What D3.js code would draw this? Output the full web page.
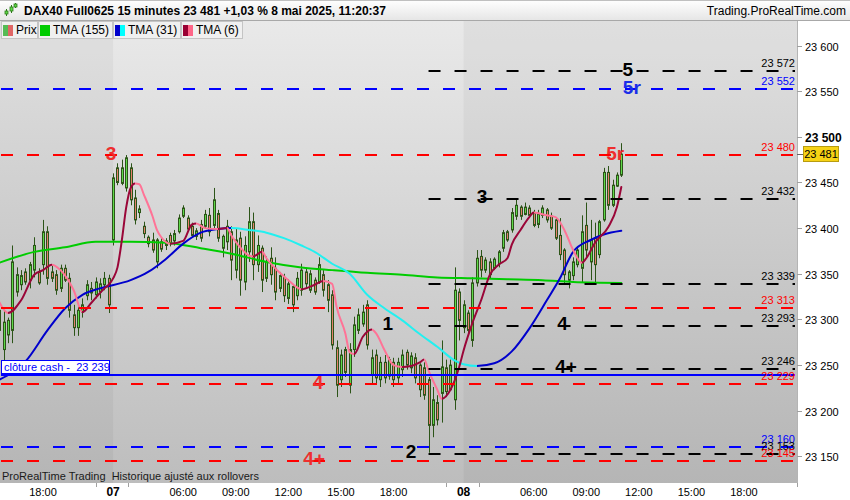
<!DOCTYPE html>
<html><head><meta charset="utf-8">
<script src="https://cdn.jsdelivr.net/npm/d3@7/dist/d3.min.js"></script>
<style>
html,body{margin:0;padding:0;background:#fff;}
svg{display:block;font-family:"Liberation Sans",Arial,Helvetica,sans-serif;}
</style></head><body>
<svg id="chart" width="850" height="500"></svg>
<script>
// ---------- DATA (15-minute bars, index 0 = 6 May 15:30) ----------
const openP = [23310,23267,23283,23288,23330,23338,23352,23343,23354,23352,
23360,23396,23352,23349,23334,23356,23345,23305,23291,23308,
23326,23334,23327,23330,23338,23345,23387,23466,23449,23444,
23466,23433,23417,23402,23390,23387,23363,23385,23381,23392,
23386,23396,23413,23411,23402,23391,23404,23402,23414,23403,
23416,23378,23385,23396,23354,23389,23341,23374,23407,23360,
23378,23345,23367,23356,23334,23346,23323,23336,23326,23332,
23352,23332,23343,23341,23349,23338,23327,23269,23234,23267,
23228,23267,23288,23295,23316,23239,23261,23234,23253,23238,
23253,23236,23245,23264,23247,23258,23250,23247,23234,23184,
23209,23219,23247,23223,23212,23330,23291,23307,23277,23340,
23369,23354,23363,23356,23361,23378,23396,23398,23413,23423,
23415,23422,23417,23404,23414,23420,23413,23409,23392,23376,
23343,23348,23360,23356,23403,23363,23389,23371,23409,23461,
23425,23446,23458];
const highP = [23318,23310,23302,23381,23357,23354,23356,23363,23390,23356,
23409,23402,23360,23354,23360,23360,23351,23316,23314,23323,
23343,23341,23346,23345,23352,23349,23460,23471,23475,23480,
23471,23442,23425,23407,23392,23395,23389,23389,23389,23395,
23398,23415,23425,23414,23406,23400,23409,23420,23422,23444,
23420,23393,23409,23402,23400,23396,23391,23423,23417,23392,
23381,23369,23379,23368,23352,23350,23344,23338,23352,23361,
23356,23354,23346,23368,23354,23343,23332,23277,23267,23270,
23274,23303,23312,23316,23321,23267,23267,23259,23261,23259,
23258,23258,23267,23267,23264,23263,23252,23253,23237,23226,
23217,23277,23256,23256,23357,23334,23321,23310,23346,23376,
23376,23368,23367,23368,23376,23398,23398,23422,23431,23425,
23428,23425,23420,23420,23425,23422,23417,23412,23411,23378,
23354,23368,23379,23414,23428,23409,23406,23409,23466,23468,
23453,23461,23493];
const lowP = [23277,23253,23274,23274,23325,23332,23338,23334,23346,23338,
23349,23338,23341,23327,23330,23341,23302,23282,23282,23302,
23321,23321,23323,23323,23332,23307,23381,23447,23447,23440,
23425,23404,23411,23389,23379,23373,23356,23374,23376,23380,
23381,23394,23411,23396,23390,23387,23385,23400,23391,23400,
23385,23368,23376,23343,23345,23326,23332,23363,23343,23352,
23330,23341,23338,23321,23330,23319,23317,23308,23321,23326,
23334,23329,23327,23339,23325,23308,23267,23215,23226,23237,
23219,23259,23284,23292,23267,23230,23230,23226,23230,23234,
23226,23230,23237,23245,23241,23230,23215,23212,23154,23171,
23184,23187,23215,23223,23201,23277,23285,23285,23270,23336,
23346,23351,23345,23354,23357,23374,23385,23395,23409,23409,
23414,23412,23401,23400,23411,23406,23398,23387,23365,23340,
23334,23343,23357,23340,23368,23343,23340,23367,23407,23420,
23423,23445,23456];
const closeP = [23288,23297,23299,23363,23349,23348,23341,23360,23381,23340,
23396,23345,23345,23332,23356,23343,23310,23291,23310,23316,
23338,23329,23341,23339,23345,23316,23455,23450,23466,23477,
23431,23409,23421,23394,23383,23376,23387,23377,23386,23383,
23394,23411,23422,23399,23392,23397,23389,23415,23396,23431,
23389,23391,23402,23365,23387,23343,23381,23407,23360,23381,
23343,23363,23349,23330,23348,23326,23339,23316,23345,23354,
23339,23350,23330,23360,23332,23321,23272,23228,23261,23242,
23267,23294,23305,23308,23272,23258,23236,23253,23236,23256,
23234,23253,23261,23250,23260,23236,23223,23217,23184,23212,
23190,23248,23221,23250,23332,23299,23316,23288,23340,23367,
23354,23365,23349,23366,23374,23395,23387,23417,23425,23413,
23423,23414,23403,23415,23422,23409,23400,23389,23371,23349,
23352,23363,23376,23396,23376,23387,23360,23407,23461,23425,
23447,23458,23481];

// moving averages read at sampled bars
const tma155Bars = [0,8,15,22,30,38,46,53,61,69,76,84,92,100,108,116,124,131,142];
const tma155Vals = [23362,23374,23379,23385,23385,23384,23378,23372,23363,23357,23354,23351,23349,23346,23345,23344,23343,23341,23340];
const tma31Bars = [0,6,11,15,19,23,30,34,38,42,46,50,53,57,61,65,69,72,76,80,84,88,92,96,100,104,106,109,113,117,121,125,128,131,135,138,142];
const tma31Vals = [23234,23254,23288,23312,23327,23334,23343,23352,23366,23383,23395,23399,23400,23398,23395,23389,23381,23374,23361,23350,23327,23312,23299,23284,23270,23255,23251,23249,23252,23265,23290,23321,23345,23374,23387,23393,23397];
const tma6Bars = [0,2,5,8,10,12,14,17,19,21,24,25,26,27,28,29,30,31,32,33,35,36,37,39,42,44,45,47,50,52,53,55,57,58,60,61,63,66,68,69,72,74,76,77,79,80,81,83,85,86,88,90,92,94,96,97,98,100,101,103,105,106,108,110,112,114,116,117,119,121,122,125,127,129,131,133,134,136,139,141,142];
const tma6Vals = [23319,23307,23321,23349,23354,23360,23354,23332,23308,23318,23334,23338,23345,23357,23387,23423,23444,23449,23448,23437,23413,23398,23390,23383,23386,23404,23405,23400,23399,23400,23392,23379,23370,23369,23374,23367,23356,23343,23335,23333,23338,23342,23339,23314,23285,23264,23262,23281,23289,23285,23266,23250,23248,23249,23253,23256,23244,23223,23213,23223,23248,23266,23296,23321,23349,23360,23367,23382,23398,23412,23417,23414,23412,23398,23376,23362,23367,23384,23401,23423,23445];

// horizontal levels
const levelValues = [23572,23552,23480,23432,23339,23313,23293,23246,23239,23229,23160,23153,23145];
const levelKinds  = ["black","blue","red","black","black","red","black","black","cash","red","blue","black","red"];

// annotations on levels
const annText  = ["3","5r","4","4+","5","5r","3","1","4","4+","2"];
const annKind  = ["red","red","red","red","black","blue","black","black","black","black","black"];
const annBar   = [25.5,140.6,72.8,71.9,143.5,144.4,110.2,88.7,128.6,129.4,94];
const annValue = [23480,23480,23229,23145,23572,23552,23432,23293,23293,23246,23153];

// axes
const yTicks = [23150,23200,23250,23300,23350,23400,23450,23500,23550,23600];
const xTickLabels = ["18:00","07","06:00","09:00","12:00","15:00","18:00","08","06:00","09:00","12:00","15:00","18:00"];
const xTickBars   = [10,26,42,54,66,78,90,106,122,134,146,158,170];
const xMinorBars  = [22,29.5,102,109.5];
const dayStartBars = [26,106];
const lastPrice = 23481;
const cashClose = 23239;

// ---------- DRAWING ----------
const svg = d3.select("#chart");
const PL=0, PR=797, PT=21, PB=483;
const x = d3.scaleLinear().domain([0,182]).range([-0.8, -0.8+182*4.381]);
const y = d3.scaleLinear().domain([23150,23600]).range([456.4,45.5]);
const fmt = v => String(v).replace(/\B(?=(\d{3})+(?!\d))/g," ");
const colors = {red:"#ff0000", blue:"#0000ff", black:"#000000", cash:"#0000ff"};
const annColors = {red:"#ee2e2e", blue:"#1a2ee8", black:"#000"};

const defs = svg.append("defs");
const bg = defs.append("linearGradient").attr("id","bg").attr("x1",0).attr("y1",0).attr("x2",0).attr("y2",1);
bg.append("stop").attr("offset",0).attr("stop-color","#e9e9e9");
bg.append("stop").attr("offset",1).attr("stop-color","#bdbdbd");
defs.append("clipPath").attr("id","clip").append("rect").attr("x",PL).attr("y",PT).attr("width",PR-PL).attr("height",PB-PT);

svg.append("rect").attr("x",PL).attr("y",PT).attr("width",PR-PL).attr("height",PB-PT).attr("fill","url(#bg)");
// alternate day shading
svg.append("rect").attr("x",PL).attr("y",PT).attr("width",x(dayStartBars[0])-PL).attr("height",PB-PT).attr("fill","#000").attr("opacity",0.04);
svg.append("rect").attr("x",x(dayStartBars[1])).attr("y",PT).attr("width",PR-x(dayStartBars[1])).attr("height",PB-PT).attr("fill","#000").attr("opacity",0.04);

const plot = svg.append("g").attr("clip-path","url(#clip)");

// candles
const cg = plot.append("g");
openP.forEach((o,i)=>{
  const c = closeP[i], cx = Math.round(x(i))+0.5;
  cg.append("line").attr("x1",cx).attr("x2",cx).attr("y1",y(highP[i])).attr("y2",y(lowP[i]))
    .attr("stroke","#2c5418").attr("stroke-width",1);
  const top = y(Math.max(o,c)), bot = y(Math.min(o,c));
  cg.append("rect").attr("x",cx-1).attr("width",2).attr("y",top).attr("height",Math.max(1,bot-top))
    .attr("fill", c>=o ? "#5fd94a" : "#e4806c").attr("stroke","#2c5418").attr("stroke-width",1);
});

// moving averages
function drawMA(bars, vals, upC, downC, id){
  const pts = bars.map((b,k)=>[x(b), y(vals[k])]);
  const x0 = pts[0][0], x1 = pts[pts.length-1][0];
  const g = defs.append("linearGradient").attr("id",id).attr("gradientUnits","userSpaceOnUse")
    .attr("x1",x0).attr("y1",0).attr("x2",x1).attr("y2",0);
  for(let k=0;k<pts.length-1;k++){
    const col = vals[k+1]>=vals[k] ? upC : downC;
    g.append("stop").attr("offset",(pts[k][0]-x0)/(x1-x0)).attr("stop-color",col);
    g.append("stop").attr("offset",(pts[k+1][0]-x0)/(x1-x0)).attr("stop-color",col);
  }
  plot.append("path").attr("d", d3.line().curve(d3.curveMonotoneX)(pts))
    .attr("fill","none").attr("stroke",`url(#${id})`).attr("stroke-width",2).attr("stroke-linecap","round");
}
drawMA(tma155Bars, tma155Vals, "#00cc00", "#00cc00", "g155");
drawMA(tma31Bars, tma31Vals, "#0000cc", "#22f0f0", "g31");
drawMA(tma6Bars, tma6Vals, "#9a0638", "#ff7396", "g6");

// levels
const lowIdx = d3.minIndex(lowP);
levelValues.forEach((v,k)=>{
  const kind = levelKinds[k];
  const x0 = kind==="black" ? x(lowIdx) : 1;
  const ln = plot.append("line").attr("x1",x0).attr("x2",PR-2).attr("y1",Math.round(y(v))).attr("y2",Math.round(y(v)))
    .attr("stroke",colors[kind]).attr("stroke-width",2);
  if(kind!=="cash") ln.attr("stroke-dasharray","12,14");
});

// level value labels (right side, inside plot)
levelValues.forEach((v,k)=>{
  const kind = levelKinds[k];
  if(kind==="cash") return;
  svg.append("text").attr("x",795).attr("y",Math.round(y(v))-4).attr("text-anchor","end")
    .attr("font-size",11).attr("fill",colors[kind]).text(fmt(v));
});

// annotations
annText.forEach((t,k)=>{
  svg.append("text").attr("x",x(annBar[k])).attr("y",y(annValue[k])-2)
    .attr("text-anchor","middle").attr("dominant-baseline","central")
    .attr("font-size",19).attr("font-weight","bold").attr("fill",annColors[annKind[k]]).text(t);
});

// cash close label
const cy = Math.round(y(cashClose));
svg.append("rect").attr("x",1.5).attr("y",cy-14.5).attr("width",108).attr("height",13).attr("fill","#fff").attr("stroke","#0000ff").attr("stroke-width",1);
svg.append("text").attr("x",4).attr("y",cy-4).attr("font-size",11).attr("fill","#0000ff").attr("xml:space","preserve").text("clôture cash -  " + fmt(cashClose));

// bottom-left note
svg.append("text").attr("x",2).attr("y",480).attr("font-size",11).attr("fill","#1a1a1a").attr("xml:space","preserve")
  .text("ProRealTime Trading  Historique ajusté aux rollovers");

// right axis
svg.append("rect").attr("x",PR).attr("y",PT).attr("width",850-PR).attr("height",PB-PT+17).attr("fill","#fff");
svg.append("line").attr("x1",PR+0.5).attr("x2",PR+0.5).attr("y1",PT).attr("y2",PB).attr("stroke","#b4b4b4");
yTicks.forEach(v=>{
  const yy = Math.round(y(v))+0.5;
  svg.append("line").attr("x1",PR).attr("x2",PR+5).attr("y1",yy).attr("y2",yy).attr("stroke","#a0a0a0");
  const bold = v===23500;
  svg.append("text").attr("x",805).attr("y",yy+4).attr("font-size",bold?12:11).attr("font-weight",bold?"bold":"normal")
    .attr("fill","#000").text(fmt(v));
});
// last price tag
const ly = y(lastPrice);
svg.append("line").attr("x1",PR).attr("x2",803).attr("y1",Math.round(ly)+0.5).attr("y2",Math.round(ly)+0.5).attr("stroke","#666");
svg.append("rect").attr("x",803.5).attr("y",Math.round(ly)-7.5).attr("width",35).attr("height",15).attr("fill","#f6d215").attr("stroke","#b89c10");
svg.append("text").attr("x",821).attr("y",Math.round(ly)+4).attr("text-anchor","middle").attr("font-size",11).attr("fill","#000").text(fmt(lastPrice));

// x axis
xMinorBars.concat([182]).forEach(b=>{
  const xx = Math.round(b===182?PR:x(b))+0.5;
  svg.append("line").attr("x1",xx).attr("x2",xx).attr("y1",PB).attr("y2",PB+4).attr("stroke","#a0a0a0");
});
xTickLabels.forEach((t,k)=>{
  const day = t.length===2;
  svg.append("text").attr("x",x(xTickBars[k])).attr("y",496).attr("text-anchor","middle")
    .attr("font-size",day?12:11).attr("font-weight",day?"bold":"normal").attr("fill","#000").text(t);
});

// header
const hg = defs.append("linearGradient").attr("id","hg").attr("x1",0).attr("y1",0).attr("x2",0).attr("y2",1);
hg.append("stop").attr("offset",0).attr("stop-color","#ffffff");
hg.append("stop").attr("offset",1).attr("stop-color","#e6e6e6");
svg.append("rect").attr("x",0).attr("y",0).attr("width",850).attr("height",20).attr("fill","url(#hg)");
svg.append("line").attr("x1",0).attr("x2",850).attr("y1",0.5).attr("y2",0.5).attr("stroke","#c0c0c0");
svg.append("line").attr("x1",0).attr("x2",850).attr("y1",20.5).attr("y2",20.5).attr("stroke","#a8a8a8");
// icon
[[6,9,16,11,14],[11,5,13,7,11],[15,3,8,4,7]].forEach(([cx,h,l,t,b])=>{
  svg.append("line").attr("x1",cx+0.5).attr("x2",cx+0.5).attr("y1",h).attr("y2",l).attr("stroke","#2c7a18");
  svg.append("rect").attr("x",cx-1).attr("y",t).attr("width",3).attr("height",b-t).attr("fill","#5fd94a").attr("stroke","#2c7a18").attr("stroke-width",0.8);
});
svg.append("text").attr("x",24).attr("y",15).attr("font-size",12).attr("font-weight","bold").attr("fill","#000")
  .text("DAX40 Full0625 15 minutes 23 481 +1,03 % 8 mai 2025, 11:20:37");
svg.append("text").attr("x",846).attr("y",15).attr("text-anchor","end").attr("font-size",12).attr("fill","#000")
  .text("Trading.ProRealTime.com");

// legend
const legItems = [
  {label:"Prix", x0:1, x1:37, sw:["#55bb55","#e06666"]},
  {label:"TMA (155)", x0:38, x1:112, sw:["#00cc00","#00cc00"]},
  {label:"TMA (31)", x0:113, x1:180, sw:["#0000cc","#00ffff"]},
  {label:"TMA (6)", x0:181, x1:242, sw:["#990033","#ff6688"]}
];
legItems.forEach(it=>{
  svg.append("rect").attr("x",it.x0+0.5).attr("y",21.5).attr("width",it.x1-it.x0).attr("height",17).attr("fill","#f0f0f0").attr("stroke","#c4c4c4");
  svg.append("rect").attr("x",it.x0+2).attr("y",25).attr("width",5).attr("height",11).attr("fill",it.sw[0]);
  svg.append("rect").attr("x",it.x0+7).attr("y",25).attr("width",5).attr("height",11).attr("fill",it.sw[1]);
  svg.append("text").attr("x",it.x0+15).attr("y",34).attr("font-size",12).attr("fill","#000").text(it.label);
});
</script></body></html>
